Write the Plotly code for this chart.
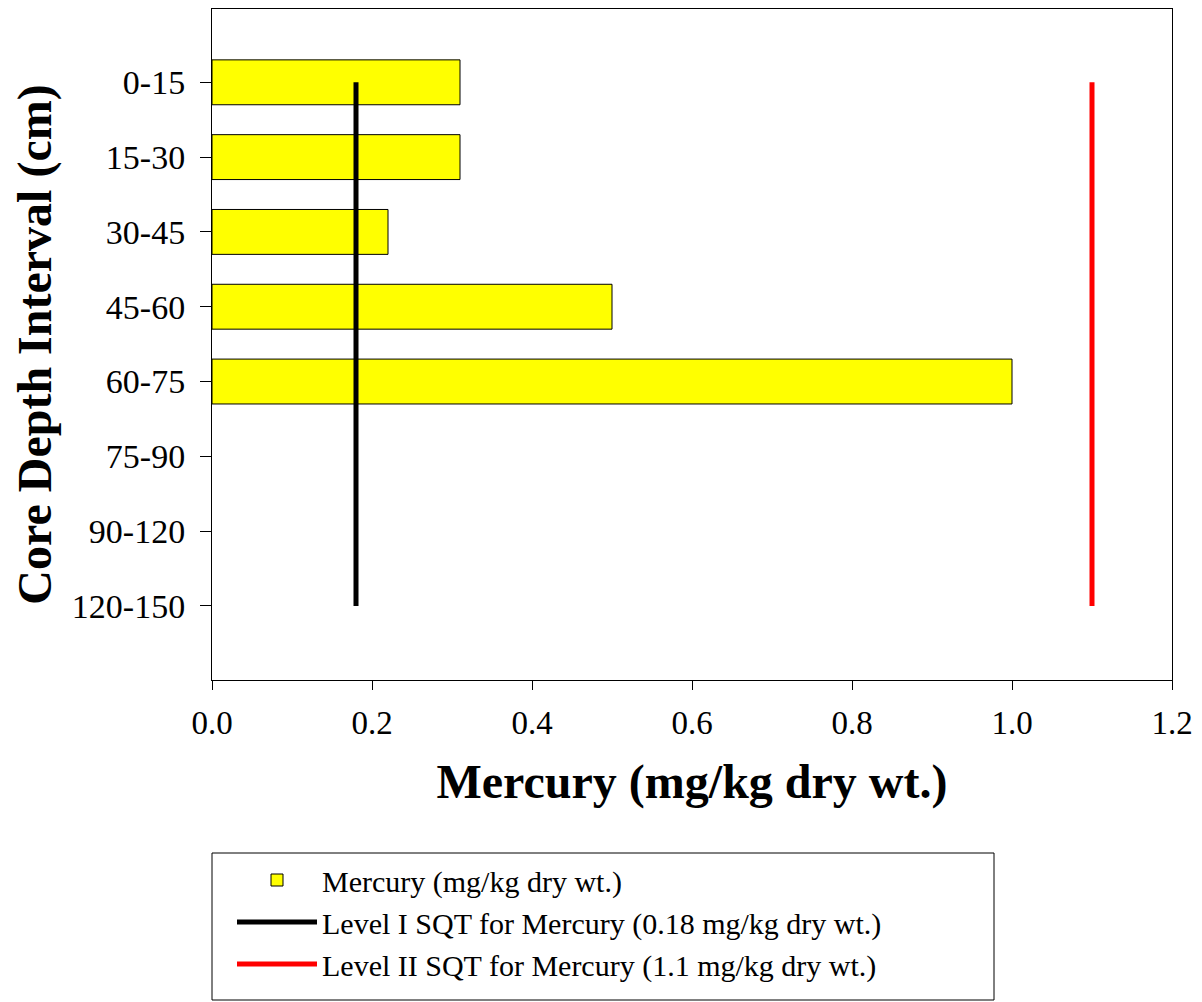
import plotly.graph_objects as go

categories = ["0-15", "15-30", "30-45", "45-60", "60-75", "75-90", "90-120", "120-150"]
mercury = [0.31, 0.31, 0.22, 0.50, 1.00, None, None, None]
level1 = 0.18
level2 = 1.1
x_ticks = [0.0, 0.2, 0.4, 0.6, 0.8, 1.0, 1.2]

FONT = "Liberation Serif"

# page body has an 8px margin; figure origin sits at (8, 8)
W, H = 1186, 994
L, R, T, B = 204, 1186 - 1164, 1, 994 - 672
PW, PH = W - L - R, H - T - B


def px_y(fig_y):
    """figure-pixel y (from top) to paper coordinate"""
    return (H - B - fig_y) / PH


fig = go.Figure()
fig.add_trace(go.Bar(
    y=categories, x=mercury, orientation="h",
    marker=dict(color="#ffff00", line=dict(color="black", width=1)),
    width=0.6, name="Mercury (mg/kg dry wt.)",
))
fig.add_trace(go.Scatter(
    x=[level1, level1], y=[categories[0], categories[-1]], mode="lines",
    line=dict(color="black", width=5),
    name="Level I SQT for Mercury (0.18 mg/kg dry wt.)",
))
fig.add_trace(go.Scatter(
    x=[level2, level2], y=[categories[0], categories[-1]], mode="lines",
    line=dict(color="red", width=5),
    name="Level II SQT for Mercury (1.1 mg/kg dry wt.)",
))

fig.update_layout(
    width=W, height=H,
    margin=dict(l=L, r=R, t=T, b=B, pad=0),
    plot_bgcolor="white", paper_bgcolor="white",
    font=dict(family=FONT, color="black", size=30),
    showlegend=True,
    legend=dict(
        x=(232 - 212) / PW, y=px_y(846), xanchor="left", yanchor="top",
        font=dict(size=30, family=FONT), bgcolor="rgba(0,0,0,0)",
        tracegroupgap=0, itemwidth=80,
    ),
    xaxis=dict(
        range=[0, 1.2], tickvals=x_ticks, ticktext=[f"{v:.1f}" for v in x_ticks],
        showgrid=False, zeroline=False,
        showline=True, linecolor="black", linewidth=1, mirror=True,
        ticks="outside", ticklen=9, tickcolor="black", tickwidth=1,
        tickfont=dict(size=33, family=FONT), ticklabelstandoff=4,
        title=dict(text="<b>Mercury (mg/kg dry wt.)</b>", font=dict(size=48, family=FONT), standoff=24),
    ),
    yaxis=dict(
        type="category", categoryorder="array", categoryarray=categories,
        range=[7.99, -0.98], autorange=False,
        showgrid=False, zeroline=False,
        showline=True, linecolor="black", linewidth=1, mirror=True,
        ticks="outside", ticklen=11, tickcolor="black", tickwidth=1,
        tickfont=dict(size=34, family=FONT), ticklabelstandoff=8,
        title=dict(text="<b>Core Depth Interval (cm)</b>", font=dict(size=48, family=FONT), standoff=6),
    ),
    shapes=[dict(
        type="rect", xref="paper", yref="paper",
        x0=0.0, x1=(994 - 212) / PW, y0=px_y(992), y1=px_y(845),
        line=dict(color="black", width=1), fillcolor="rgba(0,0,0,0)",
    )],
)

fig.write_html("out.html")
